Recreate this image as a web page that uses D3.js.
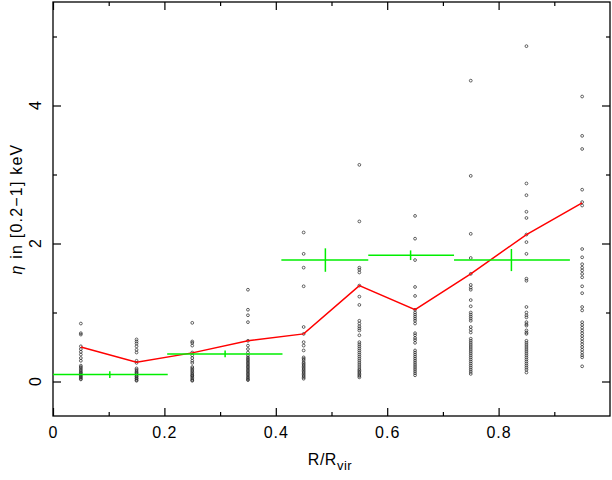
<html>
  <head>
    <meta charset="utf-8" />
    <script src="https://d3js.org/d3.v7.min.js"></script>
  </head>
  <style>
    body { margin: 0; background: #fff; }
    svg { width: 612px; height: 480px; }
    text { font-family: "Liberation Sans", Arial, sans-serif; fill: #000; }
    .tick line { stroke: #000; stroke-width: 1.2; }
  </style>
  <body>
    <svg></svg>
    <script>
      // radial bins (x position of each column of points)
      const binX = [0.05, 0.15, 0.25, 0.35, 0.45, 0.55, 0.65, 0.75, 0.85, 0.95];

      // eta values of the individual objects in each bin
      const eta005 = [0.84, 0.70, 0.68, 0.51, 0.47, 0.43, 0.39, 0.34, 0.30, 0.23, 0.21, 0.19, 0.17, 0.15, 0.13, 0.12, 0.10, 0.09, 0.07, 0.06, 0.04, 0.03];
      const eta015 = [0.61, 0.58, 0.55, 0.51, 0.46, 0.42, 0.30, 0.27, 0.19, 0.17, 0.15, 0.13, 0.12, 0.10, 0.08, 0.07, 0.05, 0.04, 0.02, 0.01];
      const eta025 = [0.85, 0.58, 0.56, 0.52, 0.42, 0.38, 0.34, 0.30, 0.27, 0.21, 0.19, 0.17, 0.15, 0.13, 0.11, 0.09, 0.08, 0.06, 0.04, 0.02, 0.01];
      const eta035 = [1.33, 1.04, 0.96, 0.86, 0.59, 0.52, 0.47, 0.42, 0.38, 0.35, 0.33, 0.31, 0.29, 0.27, 0.25, 0.23, 0.21, 0.19, 0.17, 0.15, 0.13, 0.11, 0.09, 0.07, 0.05, 0.03, 0.02];
      const eta045 = [2.16, 1.85, 1.65, 1.38, 0.79, 0.69, 0.57, 0.52, 0.45, 0.35, 0.33, 0.31, 0.28, 0.26, 0.24, 0.22, 0.20, 0.18, 0.16, 0.14, 0.12, 0.10, 0.08, 0.06, 0.04];
      const eta055 = [3.14, 2.32, 1.65, 1.62, 1.58, 1.39, 1.23, 1.11, 0.88, 0.84, 0.80, 0.77, 0.74, 0.67, 0.57, 0.54, 0.51, 0.48, 0.45, 0.42, 0.39, 0.36, 0.33, 0.30, 0.27, 0.24, 0.21, 0.18, 0.16, 0.14, 0.12, 0.10, 0.08, 0.06];
      const eta065 = [2.40, 2.07, 1.76, 1.37, 1.24, 1.04, 1.00, 0.97, 0.94, 0.91, 0.88, 0.84, 0.70, 0.67, 0.63, 0.60, 0.56, 0.45, 0.42, 0.39, 0.36, 0.33, 0.30, 0.27, 0.24, 0.21, 0.18, 0.15, 0.12, 0.09];
      const eta075 = [4.36, 2.98, 2.14, 1.79, 1.56, 1.40, 1.36, 1.33, 1.18, 1.09, 1.00, 0.97, 0.94, 0.91, 0.88, 0.79, 0.75, 0.71, 0.62, 0.59, 0.56, 0.53, 0.50, 0.47, 0.44, 0.41, 0.38, 0.35, 0.32, 0.29, 0.26, 0.23, 0.20, 0.17, 0.14, 0.11];
      const eta085 = [4.86, 2.87, 2.70, 2.46, 2.37, 2.13, 2.02, 1.85, 1.49, 1.46, 1.08, 1.00, 0.96, 0.93, 0.86, 0.83, 0.81, 0.74, 0.71, 0.69, 0.59, 0.56, 0.53, 0.50, 0.47, 0.44, 0.41, 0.38, 0.35, 0.32, 0.29, 0.26, 0.23, 0.20, 0.17, 0.13];
      const eta095 = [4.13, 3.56, 3.37, 2.78, 2.60, 2.55, 1.92, 1.80, 1.70, 1.65, 1.61, 1.56, 1.51, 1.38, 1.28, 1.08, 1.03, 0.86, 0.82, 0.78, 0.74, 0.70, 0.66, 0.62, 0.58, 0.54, 0.50, 0.46, 0.42, 0.38, 0.35, 0.22];
      const etaColumns = [eta005, eta015, eta025, eta035, eta045, eta055, eta065, eta075, eta085, eta095];

      // red curve: mean per bin
      const binMean = [0.50, 0.28, 0.415, 0.59, 0.69, 1.39, 1.04, 1.56, 2.13, 2.59];

      // green crosses: wide bins with error bars
      const wideLo = [0.0, 0.205, 0.41, 0.566, 0.72];
      const wideHi = [0.206, 0.412, 0.566, 0.72, 0.928];
      const wideX = [0.102, 0.309, 0.489, 0.642, 0.823];
      const wideEta = [0.10, 0.40, 1.76, 1.83, 1.76];
      const wideErr = [0.05, 0.05, 0.17, 0.07, 0.16];

      const xTicks = [0, 0.2, 0.4, 0.6, 0.8];
      const xMinor = [0.1, 0.3, 0.5, 0.7, 0.9];
      const yTicks = [0, 2, 4];
      const yMinor = [1, 3, 5];

      const mLeft = 53, mRight = 610, mTop = 2, mBottom = 416;
      const svg = d3.select("svg");

      const xScale = d3.scaleLinear().domain([0, 1]).range([mLeft, mRight]);
      const yScale = d3.scaleLinear().domain([-0.5, 5.5]).range([mBottom, mTop]);

      // ticks on all four sides, pointing inward
      function addAxis(axis, tx, ty) {
        const g = svg.append("g").attr("transform", `translate(${tx},${ty})`).call(axis);
        g.select(".domain").remove();
        return g;
      }
      const noLabel = () => "";
      addAxis(d3.axisBottom(xScale).tickValues(xTicks).tickSize(-8).tickPadding(11).tickFormat(d3.format("")), 0, mBottom)
        .selectAll("text").style("font-size", "16px").style("letter-spacing", "1px");
      addAxis(d3.axisBottom(xScale).tickValues(xMinor).tickSize(-4).tickFormat(noLabel), 0, mBottom);
      addAxis(d3.axisTop(xScale).tickValues(xTicks).tickSize(-8).tickFormat(noLabel), 0, mTop);
      addAxis(d3.axisTop(xScale).tickValues(xMinor).tickSize(-4).tickFormat(noLabel), 0, mTop);
      addAxis(d3.axisLeft(yScale).tickValues(yTicks).tickSize(-8).tickFormat(noLabel), mLeft, 0);
      addAxis(d3.axisLeft(yScale).tickValues(yMinor).tickSize(-4).tickFormat(noLabel), mLeft, 0);
      addAxis(d3.axisRight(yScale).tickValues(yTicks).tickSize(-8).tickFormat(noLabel), mRight, 0);
      addAxis(d3.axisRight(yScale).tickValues(yMinor).tickSize(-4).tickFormat(noLabel), mRight, 0);

      // rotated y tick labels
      svg.selectAll("text.ylab")
        .data(yTicks)
        .enter()
        .append("text")
        .attr("class", "ylab")
        .attr("transform", (d) => `translate(41,${yScale(d)}) rotate(-90)`)
        .attr("text-anchor", "middle")
        .style("font-size", "16px")
        .text((d) => d);

      // frame
      svg.append("rect")
        .attr("x", mLeft).attr("y", mTop)
        .attr("width", mRight - mLeft).attr("height", mBottom - mTop)
        .attr("fill", "none").attr("stroke", "#000").attr("stroke-width", 1.3);

      // individual points
      const pts = [];
      etaColumns.forEach((col, i) => col.forEach((v) => pts.push({ x: binX[i], y: v })));
      svg.append("g")
        .selectAll("circle")
        .data(pts)
        .enter()
        .append("circle")
        .attr("cx", (d) => xScale(d.x))
        .attr("cy", (d) => yScale(d.y))
        .attr("r", 1.4)
        .attr("fill", "none")
        .attr("stroke", "#222")
        .attr("stroke-width", 0.7);

      // red mean line
      const meanLine = d3.line()
        .x((d, i) => xScale(binX[i]))
        .y((d) => yScale(d));
      svg.append("path")
        .datum(binMean)
        .attr("d", meanLine)
        .attr("fill", "none")
        .attr("stroke", "#ff0000")
        .attr("stroke-width", 1.5);

      // green crosses
      const cross = svg.append("g").attr("stroke", "#00ee00").attr("stroke-width", 1.5);
      cross.selectAll("line.h")
        .data(wideEta)
        .enter()
        .append("line")
        .attr("class", "h")
        .attr("x1", (d, i) => xScale(wideLo[i]))
        .attr("x2", (d, i) => xScale(wideHi[i]))
        .attr("y1", (d) => yScale(d))
        .attr("y2", (d) => yScale(d));
      cross.selectAll("line.v")
        .data(wideEta)
        .enter()
        .append("line")
        .attr("class", "v")
        .attr("x1", (d, i) => xScale(wideX[i]))
        .attr("x2", (d, i) => xScale(wideX[i]))
        .attr("y1", (d, i) => yScale(d - wideErr[i]))
        .attr("y2", (d, i) => yScale(d + wideErr[i]));

      // axis titles
      const xt = svg.append("text")
        .attr("x", 330).attr("y", 465)
        .attr("text-anchor", "middle")
        .style("font-size", "16px")
        .style("letter-spacing", "0.5px");
      xt.append("tspan").text("R/R");
      xt.append("tspan").attr("dy", 5).style("font-size", "13px").text("vir");

      const yt = svg.append("text")
        .attr("transform", `translate(22,${(mTop + mBottom) / 2}) rotate(-90)`)
        .attr("text-anchor", "middle")
        .style("font-size", "16px")
        .style("letter-spacing", "1.2px");
      yt.append("tspan").style("font-style", "italic").text("η");
      yt.append("tspan").text(" in [0.2−1] keV");
    </script>
  </body>
</html>
